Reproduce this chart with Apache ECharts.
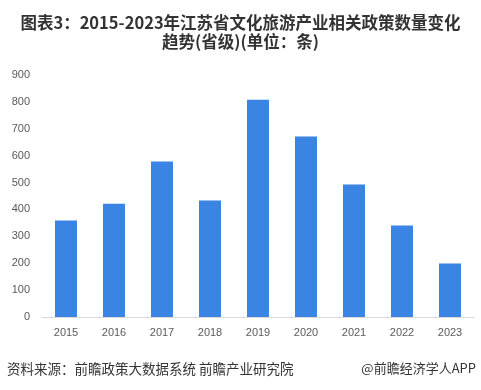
<!DOCTYPE html>
<html><head><meta charset="utf-8">
<script src="https://cdn.jsdelivr.net/npm/echarts@6/dist/echarts.min.js"></script>
<style>html,body{margin:0;padding:0;background:#fff}#c{width:481px;height:390px}</style>
</head><body><div id="c"></div>
<script>
const categories = ['2015','2016','2017','2018','2019','2020','2021','2022','2023'];
const values = [359, 421, 578, 433, 808, 671, 493, 340, 199];
const yTicks = [0,100,200,300,400,500,600,700,800,900];
const titleText = '图表3：2015-2023年江苏省文化旅游产业相关政策数量变化\n趋势(省级)(单位：条)';
const sourceText = '资料来源：前瞻政策大数据系统 前瞻产业研究院';
const brandText = '@前瞻经济学人APP';

const chart = echarts.init(document.getElementById('c'));
chart.setOption({
  animation: false,
  title: {
    text: titleText, left: 'center', top: 8,
    textStyle: {fontSize: 16.5, fontWeight: 'bold', color: '#333', lineHeight: 19, fontFamily: 'Noto Sans CJK SC'}
  },
  graphic: [
    {type:'text', left: 7, top: 362, style:{text: sourceText, fontSize: 13.5, fill:'#333', fontFamily:'Noto Sans CJK SC'}},
    {type:'text', right: 5, top: 362, style:{text: brandText, fontSize: 13, fill:'#333', fontFamily:'Noto Sans CJK SC'}}
  ],
  grid: {left: 42, right: 7, top: 75, bottom: 73},
  xAxis: {
    type: 'category', data: categories,
    axisLine: {lineStyle: {color: '#d9d9d9'}},
    axisTick: {show: false},
    axisLabel: {color: '#595959', fontSize: 11, margin: 10, fontFamily: 'Liberation Sans'}
  },
  yAxis: {
    type: 'value', min: 0, max: 900, interval: 100,
    splitLine: {show: false},
    axisLine: {show: false}, axisTick: {show: false},
    axisLabel: {color: '#595959', fontSize: 11, margin: 12, fontFamily: 'Liberation Sans'}
  },
  series: [{
    type: 'bar', data: values, barWidth: 22,
    itemStyle: {color: '#3a84e3'}
  }]
});
</script></body></html>
